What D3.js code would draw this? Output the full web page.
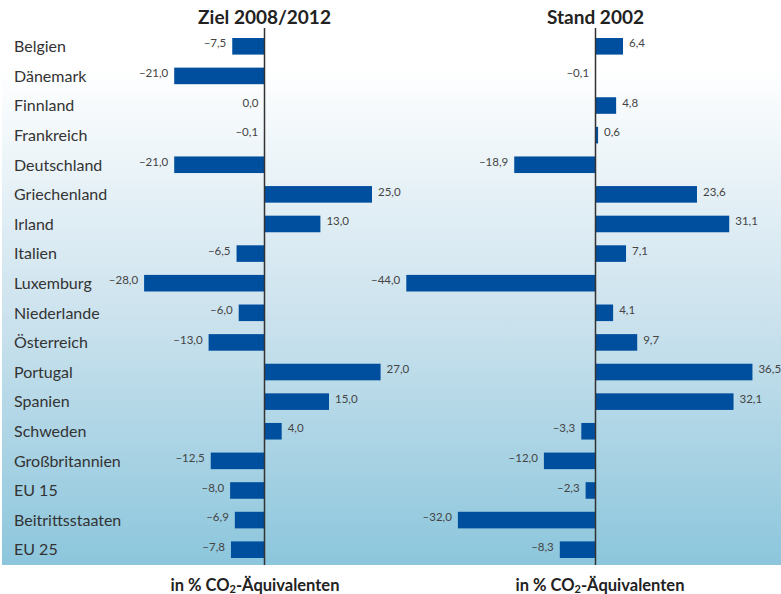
<!DOCTYPE html>
<html><head><meta charset="utf-8">
<script src="https://cdn.jsdelivr.net/npm/d3@7"></script>
<style>body{margin:0;background:#fff}svg{display:block}</style>
</head><body>
<svg id="c" width="781" height="594"></svg>
<script>
const countries = ["Belgien","Dänemark","Finnland","Frankreich","Deutschland","Griechenland","Irland","Italien","Luxemburg","Niederlande","Österreich","Portugal","Spanien","Schweden","Großbritannien","EU 15","Beitrittsstaaten","EU 25"];
const ziel = [-7.5,-21.0,0.0,-0.1,-21.0,25.0,13.0,-6.5,-28.0,-6.0,-13.0,27.0,15.0,4.0,-12.5,-8.0,-6.9,-7.8];
const stand = [6.4,-0.1,4.8,0.6,-18.9,23.6,31.1,7.1,-44.0,4.1,9.7,36.5,32.1,-3.3,-12.0,-2.3,-32.0,-8.3];
const panelTitles = ["Ziel 2008/2012","Stand 2002"];
const unitLabel = ["in % CO","2","-Äquivalenten"];

const svg = d3.select("#c");
const font = "Lato, 'Noto Sans', sans-serif";
const defs = svg.append("defs");
const g = defs.append("linearGradient").attr("id","bg").attr("x1",0).attr("y1",0).attr("x2",0).attr("y2",1);
g.append("stop").attr("offset","0").attr("stop-color","#ffffff");
g.append("stop").attr("offset","0.12").attr("stop-color","#ffffff");
g.append("stop").attr("offset","0.55").attr("stop-color","#cde3ee");
g.append("stop").attr("offset","1").attr("stop-color","#8cc6dc");
svg.append("rect").attr("x",2).attr("y",0).attr("width",779).attr("height",565).attr("fill","url(#bg)");

const y = d3.scaleBand().domain(countries).range([31.5,564.5]).paddingInner(0.44).paddingOuter(0.22);
const k = 4.3;
const xL = d3.scaleLinear().domain([-30,30]).range([264.5-30*k,264.5+30*k]);
const xR = d3.scaleLinear().domain([-45,40]).range([595.5-45*k,595.5+40*k]);
const fmt = v => (v<0?"–":"") + d3.format(".1f")(Math.abs(v)).replace(".",",");

svg.append("g").selectAll("text").data(countries).join("text")
  .attr("x",14).attr("y",d=>y(d)+y.bandwidth()/2).attr("dy","0.36em")
  .attr("font-family",font).attr("font-size",16).attr("fill","#333").text(d=>d);

function panel(vals, x, title){
  const gp = svg.append("g");
  gp.selectAll("rect").data(vals).join("rect")
    .attr("x",d=>Math.min(x(0),x(d))).attr("y",(d,i)=>y(countries[i]))
    .attr("width",d=>Math.abs(x(d)-x(0))).attr("height",y.bandwidth())
    .attr("fill","#004f9f");
  gp.append("line").attr("x1",x(0)).attr("x2",x(0)).attr("y1",28).attr("y2",565)
    .attr("stroke","#333").attr("stroke-width",1.5);
  gp.selectAll("text.v").data(vals).join("text").attr("class","v")
    .attr("x",d=> d<=0 ? x(d)-6 : x(d)+6)
    .attr("text-anchor",d=> d<=0 ? "end":"start")
    .attr("y",(d,i)=>y(countries[i])+y.bandwidth()/2).attr("dy","0.1em")
    .attr("font-family",font).attr("font-size",11.5).attr("fill","#444").text(fmt);
  svg.append("text").attr("x",x(0)).attr("y",24).attr("text-anchor","middle")
    .attr("font-family",font).attr("font-size",19).attr("font-weight","bold").attr("fill","#222").text(title);
}
panel(ziel, xL, panelTitles[0]);
panel(stand, xR, panelTitles[1]);

[255,600].forEach(cx=>{
  const t = svg.append("text").attr("x",cx).attr("y",591).attr("text-anchor","middle")
    .attr("font-family",font).attr("font-size",16.5).attr("font-weight","bold").attr("fill","#222");
  t.append("tspan").text(unitLabel[0]);
  t.append("tspan").attr("font-size",11).attr("dy",2).text(unitLabel[1]);
  t.append("tspan").attr("dy",-2).text(unitLabel[2]);
});
</script>
</body></html>
